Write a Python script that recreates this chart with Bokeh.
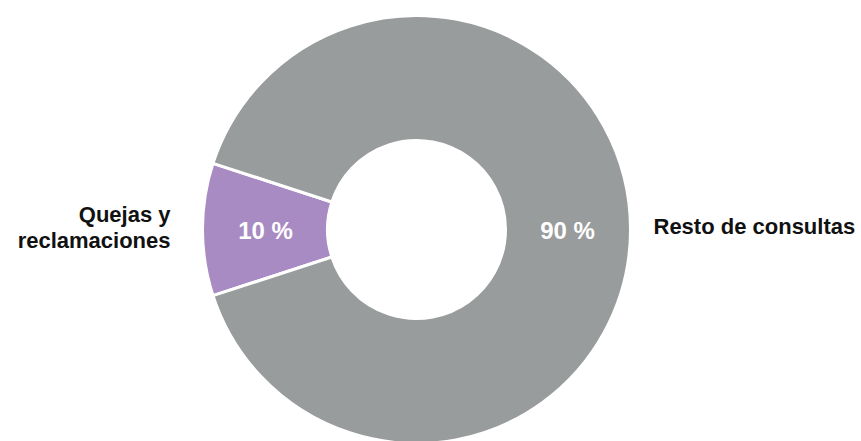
import math
from bokeh.plotting import figure
from bokeh.models import ColumnDataSource, Range1d
from bokeh.core.properties import value
from bokeh.embed import file_html
from bokeh.resources import INLINE

categories = ["Quejas y\nreclamaciones", "Resto de consultas"]
values = [10, 90]
pct_labels = ["10 %", "90 %"]
colors = ["#a98bc3", "#999c9c"]

W, H = 861, 441
cx, cy = 416, H - 229
r_out, r_in = 214, 89

total = sum(values)
# purple slice centred on the left (180 deg)
start = math.pi - values[0] / total * math.pi
starts, ends, mids = [], [], []
for v in values:
    span = v / total * 2 * math.pi
    starts.append(start)
    ends.append(start + span)
    mids.append(start + span / 2)
    start += span

src = ColumnDataSource(dict(x=[cx] * 2, y=[cy] * 2, start=starts, end=ends, color=colors))

p = figure(width=W, height=H, x_range=Range1d(0, W), y_range=Range1d(0, H),
           output_backend="svg", toolbar_location=None, min_border=0)
p.axis.visible = False
p.grid.visible = False
p.outline_line_color = None
p.background_fill_color = "white"

p.annular_wedge(x="x", y="y", inner_radius=r_in, outer_radius=r_out,
                start_angle="start", end_angle="end", fill_color="color",
                line_color="white", line_width=3, source=src)

r_lab = 151
lx = [cx + r_lab * math.cos(m) for m in mids]
ly = [cy - 1 + r_lab * math.sin(m) for m in mids]
p.text(x=lx, y=ly, text=pct_labels, text_color="white", text_align="center",
       text_baseline="middle", text_font=value("Liberation Sans"),
       text_font_style="bold", text_font_size="24px")

# outside labels
p.text(x=[cx - 246], y=[cy + 2], text=[categories[0]], text_color="#111111",
       text_align="right", text_baseline="middle", text_font=value("Liberation Sans"),
       text_font_style="bold", text_font_size="22px", text_line_height=1.05)
p.text(x=[cx + 237], y=[cy + 3], text=[categories[1]], text_color="#111111",
       text_align="left", text_baseline="middle", text_font=value("Liberation Sans"),
       text_font_style="bold", text_font_size="22px")

open("out.html", "w").write(file_html(p, INLINE))
